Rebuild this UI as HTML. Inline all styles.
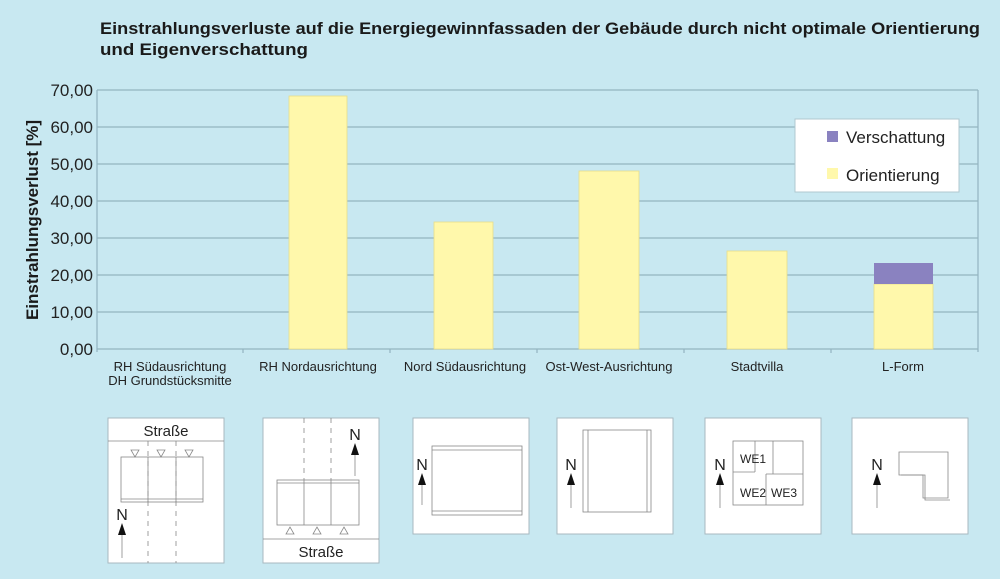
<!DOCTYPE html>
<html><head><meta charset="utf-8"><style>
body{margin:0;background:#c8e8f1;}
svg{display:block;font-family:"Liberation Sans",sans-serif;}
</style></head><body>
<svg width="1000" height="579" viewBox="0 0 1000 579">
<rect width="1000" height="579" fill="#c8e8f1"/>
<text x="100" y="34" font-size="17" font-weight="bold" fill="#1a1a1a" textLength="880" lengthAdjust="spacingAndGlyphs">Einstrahlungsverluste auf die Energiegewinnfassaden der Gebäude durch nicht optimale Orientierung</text>
<text x="100" y="55" font-size="17" font-weight="bold" fill="#1a1a1a" textLength="208" lengthAdjust="spacingAndGlyphs">und Eigenverschattung</text>
<g stroke="#93b4c0" stroke-width="1.2">
<line x1="97" y1="90" x2="978" y2="90"/><line x1="97" y1="127" x2="978" y2="127"/>
<line x1="97" y1="164" x2="978" y2="164"/><line x1="97" y1="201" x2="978" y2="201"/>
<line x1="97" y1="238" x2="978" y2="238"/><line x1="97" y1="275" x2="978" y2="275"/>
<line x1="97" y1="312" x2="978" y2="312"/><line x1="97" y1="349" x2="978" y2="349"/>
<line x1="97" y1="90" x2="97" y2="352"/><line x1="978" y1="90" x2="978" y2="352"/>
<line x1="243" y1="349" x2="243" y2="353"/><line x1="390" y1="349" x2="390" y2="353"/>
<line x1="537" y1="349" x2="537" y2="353"/><line x1="684" y1="349" x2="684" y2="353"/>
<line x1="831" y1="349" x2="831" y2="353"/>
</g>
<g font-size="17" fill="#222" text-anchor="end">
<text x="93" y="96">70,00</text><text x="93" y="133">60,00</text><text x="93" y="170">50,00</text>
<text x="93" y="207">40,00</text><text x="93" y="244">30,00</text><text x="93" y="281">20,00</text>
<text x="93" y="318">10,00</text><text x="93" y="355">0,00</text>
</g>
<text transform="translate(38,220) rotate(-90)" font-size="17" font-weight="bold" fill="#1a1a1a" text-anchor="middle" textLength="200" lengthAdjust="spacingAndGlyphs">Einstrahlungsverlust [%]</text>
<g fill="#fff8ab" stroke="#e6dc8c" stroke-width="0.8">
<rect x="289" y="96" width="58" height="253"/>
<rect x="434" y="222" width="59" height="127"/>
<rect x="579" y="171" width="60" height="178"/>
<rect x="727" y="251" width="60" height="98"/>
<rect x="874" y="284" width="59" height="65"/>
</g>
<rect x="874" y="263" width="59" height="21" fill="#8a82c0"/>
<g font-size="13" fill="#222" text-anchor="middle">
<text x="170" y="371">RH Südausrichtung</text><text x="170" y="385">DH Grundstücksmitte</text>
<text x="318" y="371">RH Nordausrichtung</text><text x="465" y="371">Nord Südausrichtung</text>
<text x="609" y="371">Ost-West-Ausrichtung</text><text x="757" y="371">Stadtvilla</text>
<text x="903" y="371">L-Form</text>
</g>
<rect x="795" y="119" width="164" height="73" fill="#fff" stroke="#b0c8d0"/>
<rect x="827" y="131" width="11" height="11" fill="#8a82c0"/>
<rect x="827" y="168" width="11" height="11" fill="#fff8ab"/>
<text x="846" y="143" font-size="17" fill="#222">Verschattung</text>
<text x="846" y="181" font-size="17" fill="#222">Orientierung</text>
<g fill="#fff" stroke="#a8b8c0">
<rect x="108" y="418" width="116" height="145"/><rect x="263" y="418" width="116" height="145"/>
<rect x="413" y="418" width="116" height="116"/><rect x="557" y="418" width="116" height="116"/>
<rect x="705" y="418" width="116" height="116"/><rect x="852" y="418" width="116" height="116"/>
</g>
<g fill="none" stroke="#888" stroke-width="0.8">
<line x1="108" y1="441" x2="224" y2="441"/>
<rect x="121" y="457" width="82" height="45"/><line x1="121" y1="499" x2="203" y2="499"/>
<line x1="148" y1="441" x2="148" y2="563" stroke-dasharray="5,5"/><line x1="176" y1="441" x2="176" y2="563" stroke-dasharray="5,5"/>
<line x1="148" y1="457" x2="148" y2="502"/><line x1="176" y1="457" x2="176" y2="502"/>
<path d="M131 450h8l-4 7z M157 450h8l-4 7z M185 450h8l-4 7z"/>
<line x1="122" y1="535" x2="122" y2="558"/>
<line x1="263" y1="539" x2="379" y2="539"/>
<rect x="277" y="480" width="82" height="45"/><line x1="277" y1="483" x2="359" y2="483"/>
<line x1="304" y1="418" x2="304" y2="480" stroke-dasharray="5,5"/><line x1="331" y1="418" x2="331" y2="480" stroke-dasharray="5,5"/>
<line x1="304" y1="480" x2="304" y2="525"/><line x1="331" y1="480" x2="331" y2="525"/>
<path d="M286 534h8l-4 -7z M313 534h8l-4 -7z M340 534h8l-4 -7z"/>
<line x1="355" y1="454" x2="355" y2="476"/>
<rect x="432" y="446" width="90" height="69"/><line x1="432" y1="450" x2="522" y2="450"/><line x1="432" y1="511" x2="522" y2="511"/>
<line x1="422" y1="484" x2="422" y2="505"/>
<rect x="583" y="430" width="68" height="82"/><line x1="588" y1="430" x2="588" y2="512"/><line x1="647" y1="430" x2="647" y2="512"/>
<line x1="571" y1="484" x2="571" y2="508"/>
<rect x="733" y="441" width="70" height="64"/><line x1="755" y1="441" x2="755" y2="472"/><line x1="733" y1="472" x2="755" y2="472"/>
<line x1="773" y1="441" x2="773" y2="474"/><line x1="766" y1="474" x2="803" y2="474"/><line x1="766" y1="474" x2="766" y2="505"/>
<line x1="720" y1="484" x2="720" y2="508"/>
<path d="M899 452h49v46h-25v-23h-24z"/><path d="M901 475h24v25h25"/>
<line x1="877" y1="484" x2="877" y2="508"/>
</g>
<g fill="#111">
<path d="M118 535l4 -12l4 12z"/><path d="M351 455l4 -12l4 12z"/>
<path d="M418 485l4 -12l4 12z"/><path d="M567 485l4 -12l4 12z"/>
<path d="M716 485l4 -12l4 12z"/><path d="M873 485l4 -12l4 12z"/>
</g>
<g font-size="15" fill="#222" text-anchor="middle">
<text x="166" y="436">Straße</text><text x="321" y="557">Straße</text>
<text x="122" y="520" font-size="16">N</text><text x="355" y="440" font-size="16">N</text>
<text x="422" y="470" font-size="16">N</text><text x="571" y="470" font-size="16">N</text>
<text x="720" y="470" font-size="16">N</text><text x="877" y="470" font-size="16">N</text>
</g>
<g font-size="12" fill="#222">
<text x="740" y="463">WE1</text><text x="740" y="497">WE2</text><text x="771" y="497">WE3</text>
</g>
</svg>
</body></html>
